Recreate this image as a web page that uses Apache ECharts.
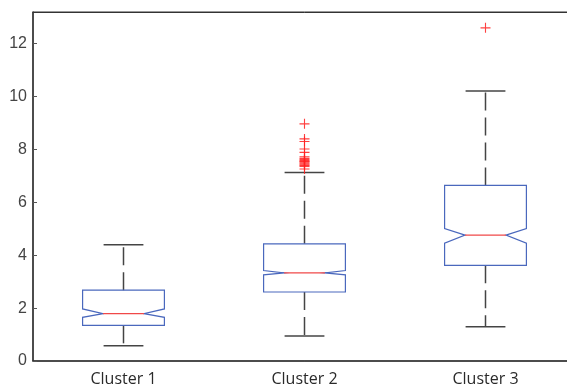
<!DOCTYPE html>
<html>
<head>
<meta charset="utf-8">
<script src="https://cdn.jsdelivr.net/npm/echarts@6/dist/echarts.min.js"></script>
<style>
html,body{margin:0;padding:0;background:#fff;overflow:hidden;}
#chart{width:576px;height:389px;}
</style>
</head>
<body>
<div id="chart"></div>
<script>
var categories = ['Cluster 1', 'Cluster 2', 'Cluster 3'];
var whiskerLow = [0.58, 0.95, 1.30];
var q1 = [1.35, 2.61, 3.62];
var notchLow = [1.65, 3.26, 4.46];
var median = [1.79, 3.33, 4.76];
var notchHigh = [1.97, 3.42, 5.01];
var q3 = [2.68, 4.43, 6.64];
var whiskerHigh = [4.40, 7.13, 10.21];
var outlierCluster = [1, 1, 1, 1, 1, 1, 1, 1, 1, 1, 1, 1, 1, 1, 1, 1, 2];
var outlierValue = [8.97, 8.40, 8.30, 8.02, 7.89, 7.72, 7.66, 7.62, 7.58, 7.55, 7.52, 7.48, 7.44, 7.40, 7.36, 7.26, 12.6];
var yTicks = [0, 2, 4, 6, 8, 10, 12];

var boxData = categories.map(function (c, i) {
  return [i, whiskerLow[i], q1[i], notchLow[i], median[i], notchHigh[i], q3[i], whiskerHigh[i]];
});
var outlierData = outlierCluster.map(function (c, i) { return [c, outlierValue[i]]; });

var boxColor = '#4a68bd';
var whiskerColor = '#444';

function renderBox(params, api) {
  var idx = api.value(0);
  var band = api.size([1, 0])[0];
  var hw = band * 0.226;
  var nw = hw * 0.5;
  var capW = band * 0.11;
  function P(v) { return api.coord([idx, v]); }
  var pWL = P(api.value(1)), pQ1 = P(api.value(2)), pNL = P(api.value(3)),
      pMed = P(api.value(4)), pNH = P(api.value(5)), pQ3 = P(api.value(6)), pWH = P(api.value(7));
  var cx = pMed[0];
  var dash = { stroke: whiskerColor, lineWidth: 1.5, lineDash: [18, 7] };
  var solid = { stroke: whiskerColor, lineWidth: 1.5 };
  return {
    type: 'group',
    children: [
      { type: 'line', shape: { x1: cx, y1: pQ3[1], x2: cx, y2: pWH[1] }, style: dash },
      { type: 'line', shape: { x1: cx, y1: pQ1[1], x2: cx, y2: pWL[1] }, style: dash },
      { type: 'line', shape: { x1: cx - capW, y1: pWH[1], x2: cx + capW, y2: pWH[1] }, style: solid },
      { type: 'line', shape: { x1: cx - capW, y1: pWL[1], x2: cx + capW, y2: pWL[1] }, style: solid },
      { type: 'polygon', shape: { points: [
          [cx - hw, pQ3[1]], [cx + hw, pQ3[1]], [cx + hw, pNH[1]], [cx + nw, pMed[1]],
          [cx + hw, pNL[1]], [cx + hw, pQ1[1]], [cx - hw, pQ1[1]], [cx - hw, pNL[1]],
          [cx - nw, pMed[1]], [cx - hw, pNH[1]]
        ] }, style: { fill: 'none', stroke: boxColor, lineWidth: 1.2 } },
      { type: 'line', shape: { x1: cx - nw, y1: pMed[1], x2: cx + nw, y2: pMed[1] },
        style: { stroke: '#f04848', lineWidth: 1.2 } }
    ]
  };
}

var chart = echarts.init(document.getElementById('chart'), null, { renderer: 'canvas' });
chart.setOption({
  animation: false,
  backgroundColor: '#fff',
  grid: { left: 33, right: 0, top: 12, bottom: 28, show: true, borderColor: '#333', borderWidth: 1 },
  xAxis: [{
    type: 'category', data: categories, position: 'bottom',
    axisLine: { lineStyle: { color: '#333', width: 1.5 } },
    axisTick: { inside: true, alignWithLabel: true, length: 5, lineStyle: { color: '#555' } },
    axisLabel: { color: '#2a2a2a', fontSize: 16, fontFamily: 'Open Sans', margin: 10 }
  }, {
    type: 'category', data: categories, position: 'top',
    axisLine: { lineStyle: { color: '#333' } },
    axisTick: { inside: true, alignWithLabel: true, length: 5, lineStyle: { color: '#555' } },
    axisLabel: { show: false }
  }],
  yAxis: {
    type: 'value', min: 0, max: 13.2, interval: 2,
    axisLine: { show: true, lineStyle: { color: '#333', width: 1.5 } },
    axisTick: { show: true, inside: true, length: 4, lineStyle: { color: '#555' } },
    axisLabel: { color: '#444', fontSize: 16, fontFamily: 'Liberation Sans', margin: 6, showMaxLabel: false,
      formatter: function (v) { return yTicks.indexOf(v) >= 0 ? String(v) : ''; } },
    splitLine: { show: false }
  },
  series: [{
    type: 'custom', renderItem: renderBox, data: boxData, encode: { x: 0, y: [1, 7] }, z: 2
  }, {
    type: 'scatter', data: outlierData, symbol: 'path://M4,0h1v4h4v1h-4v4h-1v-4h-4v-1h4z',
    symbolSize: 10, itemStyle: { color: '#ff2020', opacity: 0.85 }, z: 3
  }]
});
</script>
</body>
</html>
